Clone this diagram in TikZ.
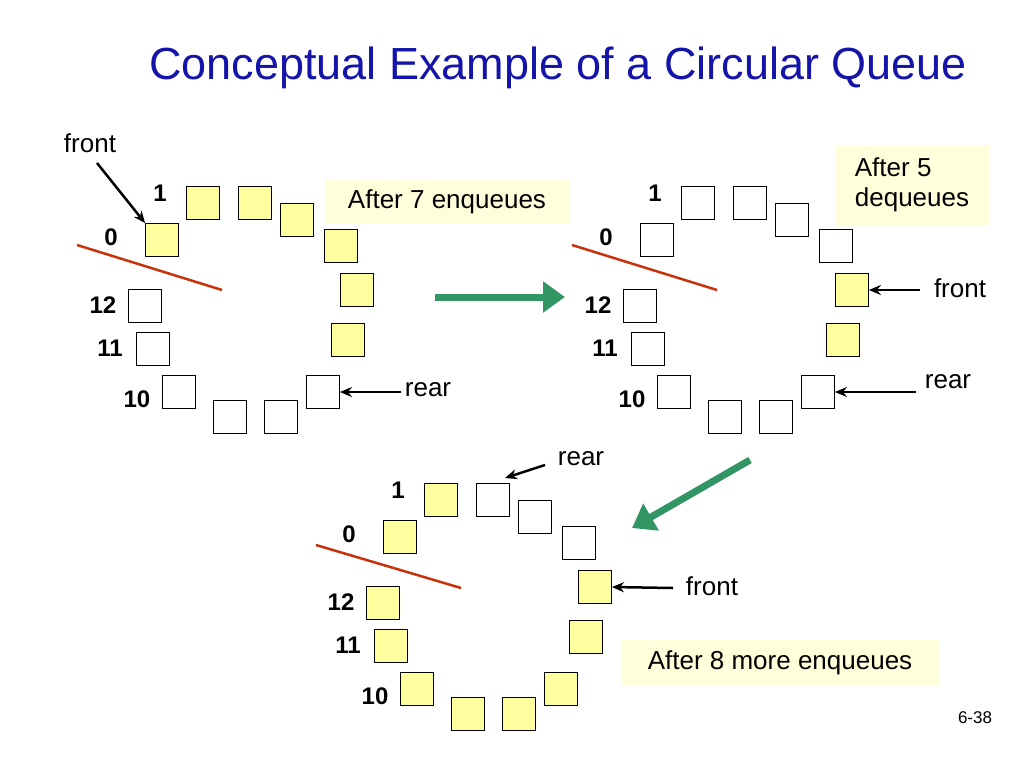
\documentclass[tikz,border=0pt]{standalone}
\usepackage{fontspec}
\setmainfont{Liberation Sans}
\usetikzlibrary{positioning,arrows.meta}
\definecolor{cellyellow}{RGB}{255,255,160}
\definecolor{notefill}{RGB}{255,255,220}
\definecolor{redline}{RGB}{200,50,10}
\definecolor{greenarrow}{RGB}{50,150,100}
\definecolor{titleblue}{RGB}{20,20,170}
\tikzset{
  cell/.style={draw,line width=0.8pt,minimum size=33pt,inner sep=0pt},
  full/.style={cell,fill=cellyellow},
  empty/.style={cell,fill=white},
  num/.style={font=\fontsize{24}{24}\selectfont\bfseries},
  lbl/.style={font=\fontsize{26}{26}\selectfont},
  note/.style={fill=notefill,font=\fontsize{26}{30}\selectfont,align=left,inner sep=6pt},
  ptr/.style={line width=2.5pt,-{Stealth[length=12pt,width=10pt]}},
  cut/.style={redline,line width=2.5pt},
  move/.style={greenarrow,line width=7pt,-{Triangle[length=22pt,width=30pt]}}
}
\begin{document}
\begin{tikzpicture}[x=1pt,y=-1pt]
\useasboundingbox (0,0) rectangle (1024,768);
\node (title) at (558,68) [text=titleblue,font=\fontsize{45}{45}\selectfont] {Conceptual Example of a Circular Queue};

% three rings of 13 cells
\foreach \i/\dx/\dy in {0/0/0,1/41/-37,2/93/-37,3/135/-20,4/179/6,5/195/50,6/186/100,7/161/152,8/119/177,9/68/177,10/17/152,11/-9/109,12/-17/66}{
  \ifnum\i<7 \def\st{full}\else\def\st{empty}\fi
  \node (a\i) at (162+\dx,240+\dy) [\st] {};
  \ifnum\i=5 \def\st{full}\else\ifnum\i=6 \def\st{full}\else\def\st{empty}\fi\fi
  \node (b\i) at (657+\dx,240+\dy) [\st] {};
  \ifnum\i=2 \def\st{empty}\else\ifnum\i=3 \def\st{empty}\else\ifnum\i=4 \def\st{empty}\else\def\st{full}\fi\fi\fi
  \node (c\i) at (400+\dx,537+\dy) [\st] {};
}

% index labels
\foreach \r/\x/\y in {a/111/237,b/606/237,c/349/534}{
  \node (\r n0) at (\x,\y) [num] {0};
  \node (\r n1) at (\x+49,\y-44) [num] {1};
  \node (\r n12) at (\x-8,\y+68) [num] {12};
  \node (\r n11) at (\x-1,\y+111) [num] {11};
  \node (\r n10) at (\x+26,\y+162) [num] {10};
}

% separating lines
\coordinate (acut1) at (77,245); \coordinate (acut2) at (222,290);
\coordinate (bcut1) at (572,245); \coordinate (bcut2) at (717,290);
\coordinate (ccut1) at (316,545); \coordinate (ccut2) at (461,588);
\draw[cut] (acut1) -- (acut2);
\draw[cut] (bcut1) -- (bcut2);
\draw[cut] (ccut1) -- (ccut2);

% pointers
\node (afront) at (90,143) [lbl] {front};
\coordinate (afrontend) at (97,163);
\draw[ptr] (afrontend) -- (a0.north west);
\node (arear) at (428,390) [lbl] {rear};
\coordinate (arearend) at (401,392);
\draw[ptr] (arearend) -- (a7.east);
\node (bfront) at (960,288) [lbl] {front};
\coordinate (bfrontend) at (920,290);
\draw[ptr] (bfrontend) -- (b5.east);
\node (brear) at (948,382) [lbl] {rear};
\coordinate (brearend) at (916,392);
\draw[ptr] (brearend) -- (b7.east);
\node (crear) at (581,459) [lbl] {rear};
\coordinate (crearend) at (545,465); \coordinate (creartip) at (505,478);
\draw[ptr] (crearend) -- (creartip);
\node (cfront) at (712,586) [lbl] {front};
\coordinate (cfrontend) at (673,588);
\draw[ptr] (cfrontend) -- (c5.east);

% notes
\node (anote) at (447,202) [note,minimum width=245pt,minimum height=44pt] {After 7 enqueues};
\node (bnote) at (912,185) [note,minimum width=154pt,minimum height=79pt] {After 5\\dequeues};
\node (cnote) at (780,663) [note,minimum width=317pt,minimum height=46pt] {After 8 more enqueues};

% transitions
\coordinate (m1a) at (435,297); \coordinate (m1b) at (565,297);
\coordinate (m2a) at (750,460); \coordinate (m2b) at (632,528);
\draw[move] (m1a) -- (m1b);
\draw[move] (m2a) -- (m2b);

\node (page) at (975,718) [font=\fontsize{17}{17}\selectfont] {6-38};
\end{tikzpicture}
\end{document}
